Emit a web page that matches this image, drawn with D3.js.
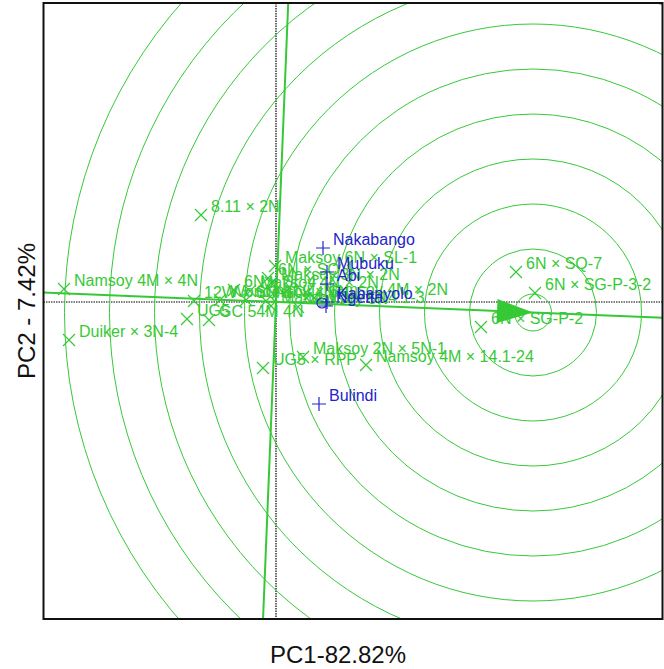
<!DOCTYPE html>
<html>
<head>
<meta charset="utf-8">
<script src="https://cdn.jsdelivr.net/npm/d3@7"></script>
<style>
  body { margin: 0; background: #fff; }
  text { font-family: Arial, "Liberation Sans", sans-serif; }
</style>
</head>
<body>
<div id="chart"></div>
<script>
// genotypes (green x)
const genoNames = ["8.11 × 2N", "Namsoy 4M × 4N", "Duiker × 3N-4", "UG5", "GC 54M 4N",
  "12W × SQ-1", "Wondersoy × 6N", "6N × NII", "NII × 4N", "6N × SL-4", "Maksoy 4N × 2N",
  "Maksoy 6N × SL-1", "6N × SQ-1", "Maksoy 3N × 2N", "Namsoy 4M × 2N", "Maksoy 3N × 14.1-3",
  "Maksoy 5N", "6N × SQ-7", "6N × SG-P-3-2", "6N × SG-P-2", "UG5 × RPP",
  "Maksoy 2N × 5N-1", "Namsoy 4M × 14.1-24"];
const genoPC1 = [-1.50, -4.24, -4.14, -1.78, -1.34, -1.64, -1.12, -0.60, -0.20, -0.84, -0.52,
  -0.02, -0.16, -0.10, 0.76, -0.10, 0.44, 4.80, 5.18, 4.10, -0.26, 0.54, 1.80];
const genoPC2 = [1.74, 0.26, -0.76, -0.34, -0.36, 0.02, 0.04, 0.04, 0.02, 0.24, 0.22,
  0.72, 0.48, 0.38, 0.08, -0.08, -0.10, 0.60, 0.18, -0.50, -1.32, -1.10, -1.26];

// environments (blue +)
const envNames = ["Nakabango", "Mubuku", "Abi", "Kabanyolo", "Ngetta", "Bulindi"];
const envPC1 = [0.94, 1.02, 1.02, 1.02, 1.00, 0.86];
const envPC2 = [1.08, 0.60, 0.36, 0.00, -0.08, -2.04];

// average environment and ideal genotype
const avgEnv = [0.92, -0.02];
const ideal = [5.14, -0.21];
// concentric circle radii around the ideal genotype
const circleRadii = [0.37, 1.27, 2.17, 3.07, 3.97, 4.87, 5.77, 6.67, 7.57, 8.47, 9.37];

const xTitle = "PC1-82.82%";
const yTitle = "PC2 - 7.42%";

const green = "#36c936", blue = "#2424cc";

const W = 664, H = 669;
const box = { left: 43.5, right: 662.5, top: 3, bottom: 619 };

const svg = d3.select("#chart")
  .append("svg")
    .attr("width", W)
    .attr("height", H);

const x = d3.scaleLinear().domain([-4.65, 7.73]).range([box.left, box.right]);
const y = d3.scaleLinear().domain([-6.34, 5.98]).range([box.bottom, box.top]);

svg.append("clipPath").attr("id", "clip")
  .append("rect")
    .attr("x", box.left).attr("y", box.top)
    .attr("width", box.right - box.left).attr("height", box.bottom - box.top);

const plot = svg.append("g").attr("clip-path", "url(#clip)");

// dotted axes through origin
plot.append("line")
  .attr("x1", box.left).attr("x2", box.right)
  .attr("y1", y(0)).attr("y2", y(0))
  .attr("stroke", "#000").attr("stroke-width", 1.2).attr("stroke-dasharray", "1.5,1");
plot.append("line")
  .attr("x1", x(0)).attr("x2", x(0))
  .attr("y1", box.top).attr("y2", box.bottom)
  .attr("stroke", "#000").attr("stroke-width", 1.2).attr("stroke-dasharray", "1.5,1");

// circles
plot.selectAll("circle.ring")
  .data(circleRadii)
  .join("circle")
    .attr("class", "ring")
    .attr("cx", x(ideal[0]))
    .attr("cy", y(ideal[1]))
    .attr("r", d => x(d) - x(0))
    .attr("fill", "none")
    .attr("stroke", green)
    .attr("stroke-width", 1);

// AEC abscissa and ordinate
const len = Math.hypot(ideal[0], ideal[1]);
const ux = ideal[0] / len, uy = ideal[1] / len;
const far = 20;
plot.append("line")
  .attr("x1", x(-ux * far)).attr("y1", y(-uy * far))
  .attr("x2", x(ux * far)).attr("y2", y(uy * far))
  .attr("stroke", green).attr("stroke-width", 2);
plot.append("line")
  .attr("x1", x(uy * far)).attr("y1", y(-ux * far))
  .attr("x2", x(-uy * far)).attr("y2", y(ux * far))
  .attr("stroke", green).attr("stroke-width", 2);

// arrow head at ideal genotype
const tip = [x(ideal[0]), y(ideal[1])];
const pdx = x(ux) - x(0), pdy = y(uy) - y(0);
const pl = Math.hypot(pdx, pdy);
const dx = pdx / pl, dy = pdy / pl;
const aL = 36, aW = 12;
const base = [tip[0] - dx * aL, tip[1] - dy * aL];
plot.append("path")
  .attr("d", `M${tip[0]},${tip[1]} L${base[0] - dy * aW},${base[1] + dx * aW} L${base[0] + dy * aW},${base[1] - dx * aW} Z`)
  .attr("fill", green);

// genotypes
const genos = genoNames.map((n, i) => ({ name: n, px: genoPC1[i], py: genoPC2[i] }));
const gs = 6;
plot.selectAll("path.geno")
  .data(genos)
  .join("path")
    .attr("class", "geno")
    .attr("d", d => {
      const cx = x(d.px), cy = y(d.py);
      return `M${cx - gs},${cy - gs}L${cx + gs},${cy + gs}M${cx - gs},${cy + gs}L${cx + gs},${cy - gs}`;
    })
    .attr("stroke", green).attr("stroke-width", 1.2).attr("fill", "none");
plot.selectAll("text.geno")
  .data(genos)
  .join("text")
    .attr("class", "geno")
    .attr("x", d => x(d.px) + 10)
    .attr("y", d => y(d.py) - 3)
    .attr("fill", green)
    .attr("font-size", 16)
    .text(d => d.name);

// environments
const envs = envNames.map((n, i) => ({ name: n, px: envPC1[i], py: envPC2[i] }));
const es = 7;
plot.selectAll("path.env")
  .data(envs)
  .join("path")
    .attr("class", "env")
    .attr("d", d => {
      const cx = x(d.px), cy = y(d.py);
      return `M${cx - es},${cy}L${cx + es},${cy}M${cx},${cy - es}L${cx},${cy + es}`;
    })
    .attr("stroke", blue).attr("stroke-width", 1.2).attr("fill", "none");
plot.selectAll("text.env")
  .data(envs)
  .join("text")
    .attr("class", "env")
    .attr("x", d => x(d.px) + 10)
    .attr("y", d => y(d.py) - 3)
    .attr("fill", blue)
    .attr("font-size", 16)
    .text(d => d.name);

// average environment marker
plot.append("circle")
  .attr("cx", x(avgEnv[0])).attr("cy", y(avgEnv[1]))
  .attr("r", 5)
  .attr("fill", "none").attr("stroke", blue).attr("stroke-width", 1.2);

// frame
svg.append("rect")
  .attr("x", box.left).attr("y", box.top)
  .attr("width", box.right - box.left).attr("height", box.bottom - box.top)
  .attr("fill", "none").attr("stroke", "#111").attr("stroke-width", 2);

// axis titles
svg.append("text")
  .attr("x", 338).attr("y", 663)
  .attr("text-anchor", "middle")
  .attr("font-size", 24)
  .attr("fill", "#111")
  .text(xTitle);
svg.append("text")
  .attr("transform", `translate(35,${(box.top + box.bottom) / 2}) rotate(-90)`)
  .attr("text-anchor", "middle")
  .attr("font-size", 24)
  .attr("fill", "#111")
  .text(yTitle);
</script>
</body>
</html>
